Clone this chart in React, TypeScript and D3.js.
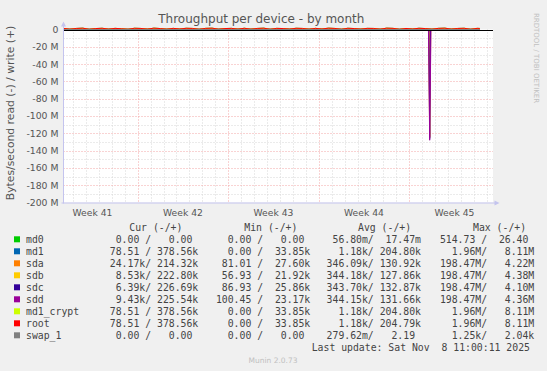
import React from 'react';
import * as d3 from 'd3';

const W = 547;
const H = 371;

const chartTitle = 'Throughput per device - by month';
const yAxisLabel = 'Bytes/second read (-) / write (+)';
const sideText = 'RRDTOOL / TOBI OETIKER';
const footerText = 'Munin 2.0.73';
const lastUpdate = 'Last update: Sat Nov  8 11:00:11 2025';

const timeStart = '2025-10-07T06:16:00Z';
const timeEnd = '2025-11-09T11:30:00Z';
const firstSample = '2025-10-07T06:00:00Z';
const sampleStepHours = 12;
const lastSample = '2025-11-08T11:00:00Z';

const weekStarts = ['2025-10-06T00:00:00Z', '2025-10-13T00:00:00Z', '2025-10-20T00:00:00Z', '2025-10-27T00:00:00Z', '2025-11-03T00:00:00Z'];
const weekLabels = ['Week 41', 'Week 42', 'Week 43', 'Week 44', 'Week 45'];

const yMajorTicks = [0, -20, -40, -60, -80, -100, -120, -140, -160, -180, -200];
const yTickLabels = ['0', '-20 M', '-40 M', '-60 M', '-80 M', '-100 M', '-120 M', '-140 M', '-160 M', '-180 M', '-200 M'];
const yMinorTicks = [-10, -30, -50, -70, -90, -110, -130, -150, -170, -190];

const seriesNames = ['md0', 'md1', 'sda', 'sdb', 'sdc', 'sdd', 'md1_crypt', 'root', 'swap_1'];
const seriesColors = ['#00CC00', '#0066B3', '#FF8000', '#FFCC00', '#330099', '#990099', '#CCFF00', '#FF0000', '#808080'];

// values in MB/s, one per 12h sample + last sample
const rootWrite = [
  1.3, 0.4, 1.2, 1.5, 0.3, 1.1, 1.4, 0.5, 1.3, 0.9, 0.3, 1.4,
  1.2, 0.5, 1.5, 1.1, 0.4, 1.3, 0.6, 1.4, 1.2, 0.3, 1.3, 1.5,
  0.4, 1.1, 1.3, 0.5, 1.4, 0.4, 1.2, 1.5, 0.3, 1.3, 1.1, 0.5,
  1.4, 1.2, 0.4, 1.3, 0.6, 1.5, 1.2, 0.3, 1.4, 1.1, 0.5, 1.3,
  1.2, 0.4, 1.5, 1.3, 0.3, 1.2, 0.6, 1.4, 1.1, 0.4, 1.3, 1.5,
  0.5, 1.2, 1.4, 0.3, 1.3, 1.2,
];
const diskWrite = [
  0.13, 0.12, 0.14, 0.13, 0.11, 0.15, 0.13, 0.12, 0.14, 0.13, 0.12, 0.13,
  0.14, 0.12, 0.13, 0.15, 0.12, 0.13, 0.14, 0.11, 0.13, 0.12, 0.14, 0.13,
  0.12, 0.13, 0.15, 0.12, 0.14, 0.13, 0.12, 0.13, 0.14, 0.12, 0.13, 0.15,
  0.13, 0.12, 0.14, 0.13, 0.11, 0.13, 0.14, 0.12, 0.13, 0.15, 0.12, 0.14,
  0.13, 0.12, 0.14, 0.13, 0.12, 0.15, 0.13, 0.12, 0.14, 0.13, 0.11, 0.13,
  0.14, 0.12, 0.13, 0.14, 0.12, 0.13,
];
const diskRead = [
  0.03, 0.02, 0.04, 0.03, 0.02, 0.05, 0.03, 0.02, 0.04, 0.03, 0.02, 0.03,
  0.04, 0.02, 0.03, 0.05, 0.02, 0.03, 0.04, 0.02, 0.03, 0.02, 0.04, 0.03,
  0.02, 0.03, 0.05, 0.02, 0.04, 0.03, 0.02, 0.03, 0.04, 0.02, 0.03, 0.05,
  0.03, 0.02, 0.04, 0.03, 0.02, 0.03, 0.04, 0.02, 0.03, 0.05, 0.02, 0.04,
  0.03, 0.02, 0.04, 0.03, 0.02, 0.05, 0.03, 0.02, 0.04, 0.03, 0.02, 0.03,
  0.04, 0.02, 0.03, 0.04, 0.02, 0.03,
];
const quietValues = [
  0, 0, 0, 0, 0, 0, 0, 0, 0, 0, 0, 0,
  0, 0, 0, 0, 0, 0, 0, 0, 0, 0, 0, 0,
  0, 0, 0, 0, 0, 0, 0, 0, 0, 0, 0, 0,
  0, 0, 0, 0, 0, 0, 0, 0, 0, 0, 0, 0,
  0, 0, 0, 0, 0, 0, 0, 0, 0, 0, 0, 0,
  0, 0, 0, 0, 0, 0,
];

// read spike on Nov 4 (MB/s)
const sdaSpikeTimes = ['2025-11-04T13:00:00Z', '2025-11-04T14:00:00Z', '2025-11-04T15:00:00Z'];
const sdaSpikeRead = [0.03, 124, 0.03];
const sdbSpikeTimes = ['2025-11-04T12:00:00Z', '2025-11-04T14:00:00Z', '2025-11-04T16:00:00Z'];
const sdbSpikeRead = [0.03, 125, 0.03];
const sdcSpikeTimes = ['2025-11-04T12:30:00Z', '2025-11-04T14:00:00Z', '2025-11-04T15:30:00Z'];
const sdcSpikeRead = [0.03, 126, 0.03];
const sddSpikeTimes = ['2025-11-04T11:40:00Z', '2025-11-04T14:00:00Z', '2025-11-04T16:20:00Z'];
const sddSpikeRead = [0.03, 128, 0.03];

const seriesRead = [quietValues, quietValues, diskRead, diskRead, diskRead, diskRead, quietValues, quietValues, quietValues];
const seriesWrite = [quietValues, rootWrite, diskWrite, diskWrite, diskWrite, diskWrite, rootWrite, rootWrite, quietValues];
const spikeTimesBySeries: Record<string, string[]> = { sda: sdaSpikeTimes, sdb: sdbSpikeTimes, sdc: sdcSpikeTimes, sdd: sddSpikeTimes };
const spikeReadBySeries: Record<string, number[]> = { sda: sdaSpikeRead, sdb: sdbSpikeRead, sdc: sdcSpikeRead, sdd: sddSpikeRead };

const legendHeaders = ['Cur (-/+)', 'Min (-/+)', 'Avg (-/+)', 'Max (-/+)'];
const curRead = ['0.00', '78.51', '24.17k', '8.53k', '6.39k', '9.43k', '78.51', '78.51', '0.00'];
const curWrite = ['0.00', '378.56k', '214.32k', '222.80k', '226.69k', '225.54k', '378.56k', '378.56k', '0.00'];
const minRead = ['0.00', '0.00', '81.01', '56.93', '86.93', '100.45', '0.00', '0.00', '0.00'];
const minWrite = ['0.00', '33.85k', '27.60k', '21.92k', '25.86k', '23.17k', '33.85k', '33.85k', '0.00'];
const avgRead = ['56.80m', '1.18k', '346.09k', '344.18k', '343.70k', '344.15k', '1.18k', '1.18k', '279.62m'];
const avgWrite = ['17.47m', '204.80k', '130.92k', '127.86k', '132.87k', '131.66k', '204.80k', '204.79k', '2.19'];
const maxRead = ['514.73', '1.96M', '198.47M', '198.47M', '198.47M', '198.47M', '1.96M', '1.96M', '1.25k'];
const maxWrite = ['26.40', '8.11M', '4.22M', '4.38M', '4.10M', '4.36M', '8.11M', '8.11M', '2.04k'];

function fmtPart(v: string) {
  const last = v[v.length - 1];
  const hasSuffix = /[a-zA-Z]/.test(last);
  const num = hasSuffix ? v.slice(0, -1) : v;
  return num.padStart(7, ' ') + (hasSuffix ? last : ' ');
}
function fmtPair(r: string, w: string) {
  return fmtPart(r) + '/' + fmtPart(w);
}

export default function App() {
  const plotLeft = 63.5;
  const plotRight = 493;
  const plotTop = 29.5;
  const plotBottom = 202.5;

  const x = d3.scaleUtc().domain([new Date(timeStart), new Date(timeEnd)]).range([plotLeft, plotRight]);
  const y = d3.scaleLinear().domain([-200, 0]).range([plotBottom, plotTop]);

  const t0 = new Date(firstSample).getTime();
  const sampleTimes: Date[] = d3.range(65).map((i) => new Date(t0 + i * sampleStepHours * 3600 * 1000));
  sampleTimes.push(new Date(lastSample));

  const days = d3.utcDay.range(new Date(timeStart), new Date(timeEnd));
  const weekSet = new Set(weekStarts.map((s) => new Date(s).getTime()));
  const minorDays = days.filter((d) => !weekSet.has(d.getTime()));
  const majorWeeks = weekStarts.map((s) => new Date(s)).filter((d) => d >= new Date(timeStart));

  const line = d3
    .line<[Date, number]>()
    .x((d) => x(d[0]))
    .y((d) => y(d[1]));

  const buildRead = (i: number): [Date, number][] => {
    const name = seriesNames[i];
    const vals = seriesRead[i];
    let pts: [Date, number][] = sampleTimes.map((t, k) => [t, -(vals[k] ?? 0)]);
    if (spikeTimesBySeries[name]) {
      const sp: [Date, number][] = spikeTimesBySeries[name].map((t, k) => [new Date(t), -spikeReadBySeries[name][k]]);
      pts = pts.concat(sp).sort((a, b) => a[0].getTime() - b[0].getTime());
    }
    return pts;
  };
  const buildWrite = (i: number): [Date, number][] => {
    const vals = seriesWrite[i];
    return sampleTimes.map((t, k) => [t, vals[k] ?? 0]);
  };

  const labelFont = 'DejaVu Sans, sans-serif';
  const monoFont = 'DejaVu Sans Mono, monospace';
  const axisColor = '#c4c4ee';

  const legendTop = 239.3;
  const rowH = 12;
  const colX = [98, 210, 320.7, 434];
  const headerX = [129.3, 244.3, 358, 473];

  return (
    <svg
      width={W}
      height={H}
      viewBox={`0 0 ${W} ${H}`}
      style={{ position: 'absolute', left: 0, top: 0, display: 'block' }}
    >
      <defs>
        <clipPath id="plotClip">
          <rect x={plotLeft} y={26.5} width={plotRight - plotLeft} height={plotBottom - 26.5} />
        </clipPath>
      </defs>
      <rect x={0} y={0} width={W} height={H} fill="#f0f0f0" />
      <rect x={plotLeft} y={plotTop} width={plotRight - plotLeft} height={plotBottom - plotTop} fill="#ffffff" />

      {/* minor grid */}
      {minorDays.map((d, i) => (
        <line key={`vd${i}`} x1={Math.round(x(d)) + 0.5} x2={Math.round(x(d)) + 0.5} y1={plotTop} y2={plotBottom}
          stroke="#d6d6d6" strokeWidth={1} strokeDasharray="1,2" />
      ))}
      {yMinorTicks.map((v, i) => (
        <line key={`hm${i}`} x1={plotLeft} x2={plotRight} y1={Math.round(y(v)) + 0.5} y2={Math.round(y(v)) + 0.5}
          stroke="#d6d6d6" strokeWidth={1} strokeDasharray="1,2" />
      ))}
      {/* major grid */}
      {majorWeeks.map((d, i) => (
        <line key={`vw${i}`} x1={Math.round(x(d)) + 0.5} x2={Math.round(x(d)) + 0.5} y1={plotTop} y2={plotBottom}
          stroke="#f3a6a6" strokeWidth={1} strokeDasharray="1,2" />
      ))}
      {yMajorTicks.slice(1, -1).map((v, i) => (
        <line key={`hM${i}`} x1={plotLeft} x2={plotRight} y1={Math.round(y(v)) + 0.5} y2={Math.round(y(v)) + 0.5}
          stroke="#f3a6a6" strokeWidth={1} strokeDasharray="1,2" />
      ))}

      {/* y tick labels */}
      {yMajorTicks.map((v, i) => (
        <text key={`yl${i}`} x={58.5} y={y(v) + 3.4} textAnchor="end" fontFamily={labelFont} fontSize={9.3} fill="#555">
          {yTickLabels[i]}
        </text>
      ))}
      {/* week labels */}
      {weekStarts.map((s, i) => {
        const mid = new Date(new Date(s).getTime() + 3.5 * 86400000);
        return (
          <text key={`wl${i}`} x={x(mid)} y={216.3} textAnchor="middle" fontFamily={labelFont} fontSize={9.2} fill="#555">
            {weekLabels[i]}
          </text>
        );
      })}

      {/* series */}
      <g clipPath="url(#plotClip)">
        {seriesNames.map((name, i) => (
          <g key={name}>
            <path d={line(buildRead(i)) ?? ''} fill="none" stroke={seriesColors[i]} strokeWidth={1} />
            <path d={line(buildWrite(i)) ?? ''} fill="none" stroke={seriesColors[i]} strokeWidth={1} />
          </g>
        ))}
        <line x1={plotLeft} x2={plotRight} y1={Math.round(y(0)) + 0.5} y2={Math.round(y(0)) + 0.5} stroke="#000" strokeWidth={1} />
      </g>

      {/* axes */}
      <line x1={plotLeft} x2={plotLeft} y1={plotBottom + 1} y2={25} stroke={axisColor} strokeWidth={1} />
      <path d={`M${plotLeft - 2.5},${26.5} L${plotLeft},${21.5} L${plotLeft + 2.5},${26.5} Z`} fill={axisColor} />
      <line x1={plotLeft - 2} x2={496} y1={plotBottom + 0.5} y2={plotBottom + 0.5} stroke={axisColor} strokeWidth={1} />
      <path d={`M${494.5},${plotBottom - 2} L${499.5},${plotBottom + 0.5} L${494.5},${plotBottom + 3} Z`} fill={axisColor} />

      {/* title */}
      <text x={261.3} y={23.2} textAnchor="middle" fontFamily={labelFont} fontSize={12} fill="#555">
        {chartTitle}
      </text>
      {/* y axis label */}
      <text transform={`translate(13.8,113) rotate(-90)`} textAnchor="middle" fontFamily={labelFont} fontSize={10.8} fill="#555">
        {yAxisLabel}
      </text>
      {/* side text */}
      <text transform={`translate(534,58) rotate(90)`} textAnchor="middle" fontFamily={labelFont} fontSize={7} fill="#c0c0c0">
        {sideText}
      </text>

      {/* legend */}
      {legendHeaders.map((h, i) => (
        <text key={`lh${i}`} x={headerX[i]} y={227.5 + 3.5} fontFamily={monoFont} fontSize={9.8} fill="#444" xmlSpace="preserve">
          {h}
        </text>
      ))}
      {seriesNames.map((name, i) => {
        const cy = legendTop + i * rowH;
        const cols = [
          fmtPair(curRead[i], curWrite[i]),
          fmtPair(minRead[i], minWrite[i]),
          fmtPair(avgRead[i], avgWrite[i]),
          fmtPair(maxRead[i], maxWrite[i]),
        ];
        return (
          <g key={`lg${name}`}>
            <rect x={14} y={cy - 3} width={6} height={6} fill={seriesColors[i]} />
            <text x={26} y={cy + 3.5} fontFamily={monoFont} fontSize={9.8} fill="#444">{name}</text>
            {cols.map((c, k) => (
              <text key={k} x={colX[k]} y={cy + 3.5} fontFamily={monoFont} fontSize={9.8} fill="#444" xmlSpace="preserve" style={{ whiteSpace: 'pre' }}>
                {c}
              </text>
            ))}
          </g>
        );
      })}
      <text x={311.7} y={347.7 + 3.5} fontFamily={monoFont} fontSize={9.8} fill="#444" xmlSpace="preserve" style={{ whiteSpace: 'pre' }}>
        {lastUpdate}
      </text>
      <text x={273} y={362.5} textAnchor="middle" fontFamily={labelFont} fontSize={7.5} fill="#c0c0c0">
        {footerText}
      </text>
    </svg>
  );
}
